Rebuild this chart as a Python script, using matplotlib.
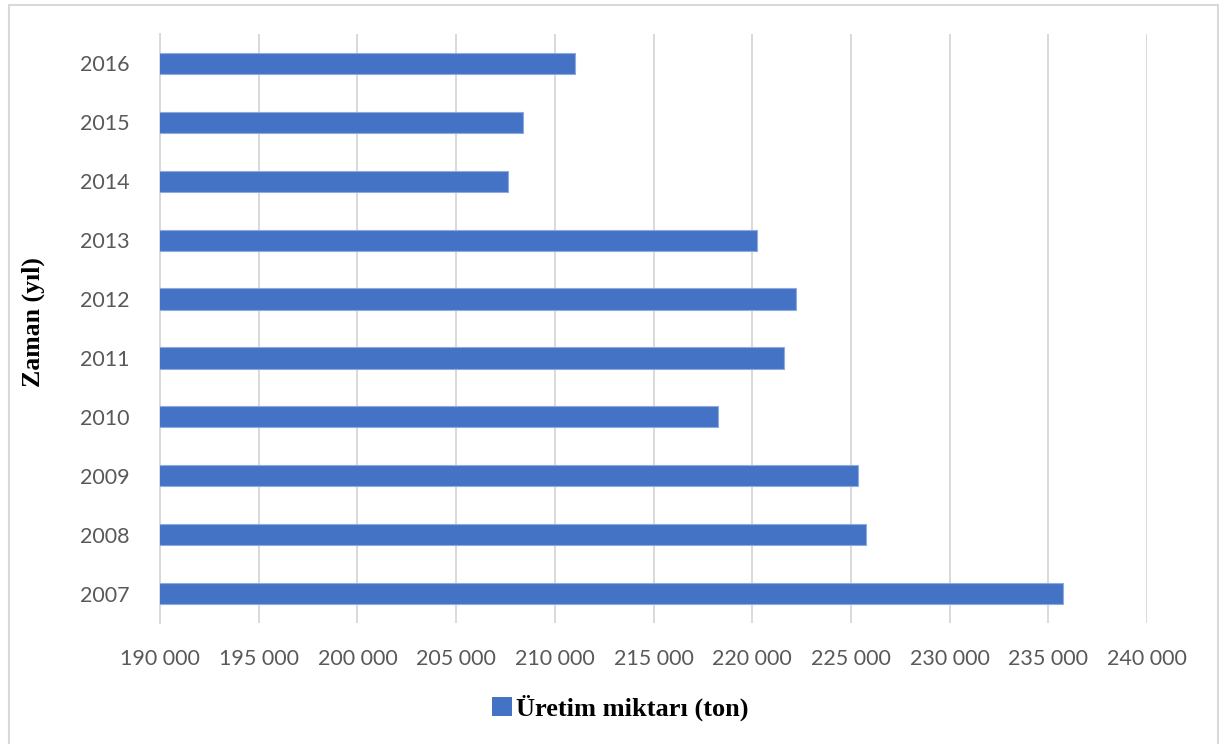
import matplotlib
matplotlib.use("Agg")
import matplotlib.pyplot as plt
from matplotlib.patches import Rectangle, Patch
from matplotlib.ticker import FuncFormatter

years = ["2007", "2008", "2009", "2010", "2011", "2012", "2013", "2014", "2015", "2016"]
production = [235730, 225740, 225340, 218270, 221630, 222220, 220260, 207650, 208370, 211000]
series_label = "Üretim miktarı (ton)"
x_ticks = list(range(190000, 240001, 5000))

BAR_COLOR = "#4472C4"
GRID_COLOR = "#D9D9D9"
TEXT_COLOR = "#595959"

fig = plt.figure(figsize=(12.19, 7.44), dpi=100)
ax = fig.add_axes([160 / 1219, 1 - 623 / 744, (1147 - 160) / 1219, (623 - 34) / 744])

ax.barh(range(len(years)), production, height=0.36, color=BAR_COLOR,
        edgecolor="#8FAADC", linewidth=0.8, zorder=3)

ax.set_xlim(190000, 240000)
ax.set_ylim(-0.5, len(years) - 0.5)
ax.set_xticks(x_ticks)
ax.xaxis.set_major_formatter(FuncFormatter(lambda v, p: f"{int(v):,}".replace(",", " ")))
ax.set_yticks(range(len(years)))
ax.set_yticklabels(years)

ax.grid(axis="x", color=GRID_COLOR, linewidth=1.4, zorder=0)
for side in ["top", "right", "bottom"]:
    ax.spines[side].set_visible(False)
ax.spines["left"].set_color(GRID_COLOR)
ax.spines["left"].set_linewidth(1.4)
ax.tick_params(length=0, labelsize=15.5, labelcolor=TEXT_COLOR)
ax.tick_params(axis="y", pad=22)
ax.tick_params(axis="x", pad=19)
for lbl in ax.get_xticklabels() + ax.get_yticklabels():
    lbl.set_fontfamily("Lato")

fig.text(33 / 1219, 1 - 322 / 744, "Zaman (yıl)", rotation=90, ha="center", va="center",
         fontfamily="Liberation Serif", fontweight="bold", fontsize=18.5)

handle = Patch(facecolor=BAR_COLOR, edgecolor="none")
fig.legend([handle], [series_label], loc="center", bbox_to_anchor=(620 / 1219, 1 - 708 / 744),
           frameon=False, handlelength=0.75, handleheight=0.75, handletextpad=0.15,
           prop={"family": "Liberation Serif", "weight": "bold", "size": 19})

fig.patches.append(Rectangle((9 / 1219, -0.02), 1209 / 1219, 1.02 - 5 / 744,
                             transform=fig.transFigure, fill=False,
                             edgecolor=GRID_COLOR, linewidth=1.5))

fig.savefig("out.png", dpi=100, facecolor="white")
